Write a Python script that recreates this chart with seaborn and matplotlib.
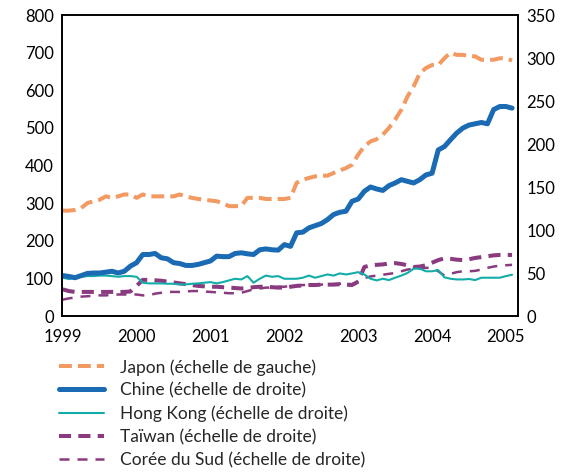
import numpy as np
import pandas as pd
import matplotlib
matplotlib.use("Agg")
import matplotlib.pyplot as plt
import seaborn as sns

# ---- data (monthly, Jan 1999 - Feb 2005) ----
start_year = 1999
japon = [280, 280, 282, 287, 300, 305, 309, 318, 314, 318, 323, 323,
         314, 323, 318, 318, 318, 318, 318, 323, 318, 314, 311, 309,
         307, 305, 300, 292, 292, 292, 314, 314, 314, 311, 311, 311,
         311, 314, 354, 362, 367, 371, 373, 373, 380, 387, 393, 402,
         429, 451, 464, 470, 482, 500, 522, 548, 583, 610, 645, 659,
         667, 667, 685, 700, 694, 694, 691, 690, 681, 681, 681, 685,
         685, 679]
chine = [47, 46, 44.5, 47, 49.5, 50, 50, 51, 52, 50, 52, 58,
         62, 71.5, 71.5, 72.7, 67.7, 66.5, 62, 61, 58.8, 58.8, 60, 62,
         64, 69.6, 69, 69, 72.7, 73.5, 72.3, 71.5, 77, 78, 77, 76.6,
         83, 81, 96.7, 97.5, 102.5, 105, 107.5, 112, 118, 120.6, 121.8, 133.4,
         136, 145, 150, 147.7, 146, 151.6, 154.7, 158.5, 156.6, 154.7, 158.5, 164,
         166, 193, 197, 205, 212.7, 218.5, 222, 223.5, 225, 223.5, 240, 243.6,
         243.6, 241.7]
hong_kong = [44.5, 43, 44.5, 45.6, 46.4, 46.4, 47, 47, 46.4, 45.6, 46.4, 46.4,
             45.6, 38.7, 37.9, 37.9, 37.9, 37.5, 37.5, 36.7, 36.7, 37.5, 37.9, 38.7,
             39.4, 37.9, 39.4, 41.4, 43.3, 42.5, 46.4, 38.7, 43.3, 47, 45.6, 46.4,
             43.3, 43.3, 43.3, 44.5, 47, 44.5, 46.4, 48.3, 47, 49.5, 48.3, 49.5,
             51, 48.3, 43.3, 41.4, 43.3, 41.8, 44.5, 47, 50, 55, 55, 52,
             52, 53.4, 45, 43.3, 42.5, 42.5, 43, 41.8, 44.5, 44.5, 44.5, 44.5,
             46.4, 48]
taiwan = [31, 29, 28, 28, 28, 28, 28, 28, 28, 28, 28, 28.5,
          35, 42, 42, 41.5, 41, 40, 39, 38, 37, 36, 35, 34.5,
          34, 34, 33.5, 33, 32.5, 32, 32.5, 33.5, 34, 34, 33.5, 33,
          33, 34, 35, 35.5, 36, 36, 36.5, 36.5, 36.5, 37, 36.5, 36,
          40, 57, 59, 59.5, 60, 61, 61.5, 60.5, 59, 57, 57.5, 59,
          62, 65, 67, 66.5, 65.5, 65, 66, 67.5, 68.5, 69.5, 70.5, 71,
          71, 71]
coree = [19, 20.5, 21.5, 22.5, 23, 23.5, 24, 24, 24.5, 25, 25, 25,
         25, 24, 24, 26, 27, 28, 28, 28, 28.5, 29, 29, 28.5,
         28, 27.5, 27, 26.5, 26.5, 27, 29, 31, 32, 33, 33, 34,
         34, 35, 35.5, 36, 36, 36.5, 36.5, 37, 37, 37.5, 37.5, 37,
         40, 44, 46, 47, 48, 49, 50, 52, 54, 55, 55, 56,
         56, 52, 47, 49, 51, 52, 52, 52.5, 54, 56, 57.5, 58.5,
         59, 59.5]
year_ticks = [1999, 2000, 2001, 2002, 2003, 2004, 2005]
left_ticks = [0, 100, 200, 300, 400, 500, 600, 700, 800]
right_ticks = [0, 50, 100, 150, 200, 250, 300, 350]
labels = ["Japon (échelle de gauche)", "Chine (échelle de droite)",
          "Hong Kong (échelle de droite)", "Taïwan (échelle de droite)",
          "Corée du Sud (échelle de droite)"]

n = len(japon)
t = start_year + np.arange(n) / 12.0
df = pd.DataFrame({"t": t, "japon": japon, "chine": chine, "hk": hong_kong,
                   "taiwan": taiwan, "coree": coree})

c_or = "#F39A62"
c_bl = "#1A6AB4"
c_te = "#12ADA8"
c_pu = "#8A3A7E"

sns.set_theme(style="white")
plt.rcParams["font.family"] = ["Lato", "DejaVu Sans"]

fig = plt.figure(figsize=(5.61, 4.73), dpi=100)
ax = fig.add_axes([62/561, 1-316/473, (518-62)/561, (316-15)/473])
ax2 = ax.twinx()

sns.lineplot(data=df, x="t", y="japon", ax=ax, color=c_or, lw=2.9)
ln_j = ax.lines[-1]
ln_j.set_dashes([3.2, 1.5])

sns.lineplot(data=df, x="t", y="coree", ax=ax2, color=c_pu, lw=1.8)
ln_k = ax2.lines[-1]
ln_k.set_dashes([4, 3.2])
sns.lineplot(data=df, x="t", y="taiwan", ax=ax2, color=c_pu, lw=2.9)
ln_t = ax2.lines[-1]
ln_t.set_dashes([3, 1.8])
sns.lineplot(data=df, x="t", y="hk", ax=ax2, color=c_te, lw=1.5)
ln_h = ax2.lines[-1]
sns.lineplot(data=df, x="t", y="chine", ax=ax2, color=c_bl, lw=3.6)
ln_c = ax2.lines[-1]

ax.set_ylim(0, 800)
ax2.set_ylim(0, 350)
ax.set_xlim(start_year - 0.01, start_year + (n - 1) / 12 + 0.08)
ax.set_xticks(year_ticks)
ax.set_xticklabels([str(y) for y in year_ticks])
ax.set_yticks(left_ticks)
ax2.set_yticks(right_ticks)
for a in (ax, ax2):
    a.set_xlabel("")
    a.set_ylabel("")
    a.tick_params(axis="both", length=0, labelsize=12, colors="black", pad=6)
    a.grid(False)
    for s in a.spines.values():
        s.set_color("black")
        s.set_linewidth(1.2)
ax.tick_params(axis="x", pad=9)

handles = [ln_j, ln_c, ln_h, ln_t, ln_k]
leg = fig.legend(handles, labels, loc="upper left",
                 bbox_to_anchor=(52/561, 1-352/473), frameon=False,
                 fontsize=12.5, handlelength=2.6, labelspacing=0.4,
                 handletextpad=0.9, borderaxespad=0)

fig.savefig("out.png", dpi=100)
